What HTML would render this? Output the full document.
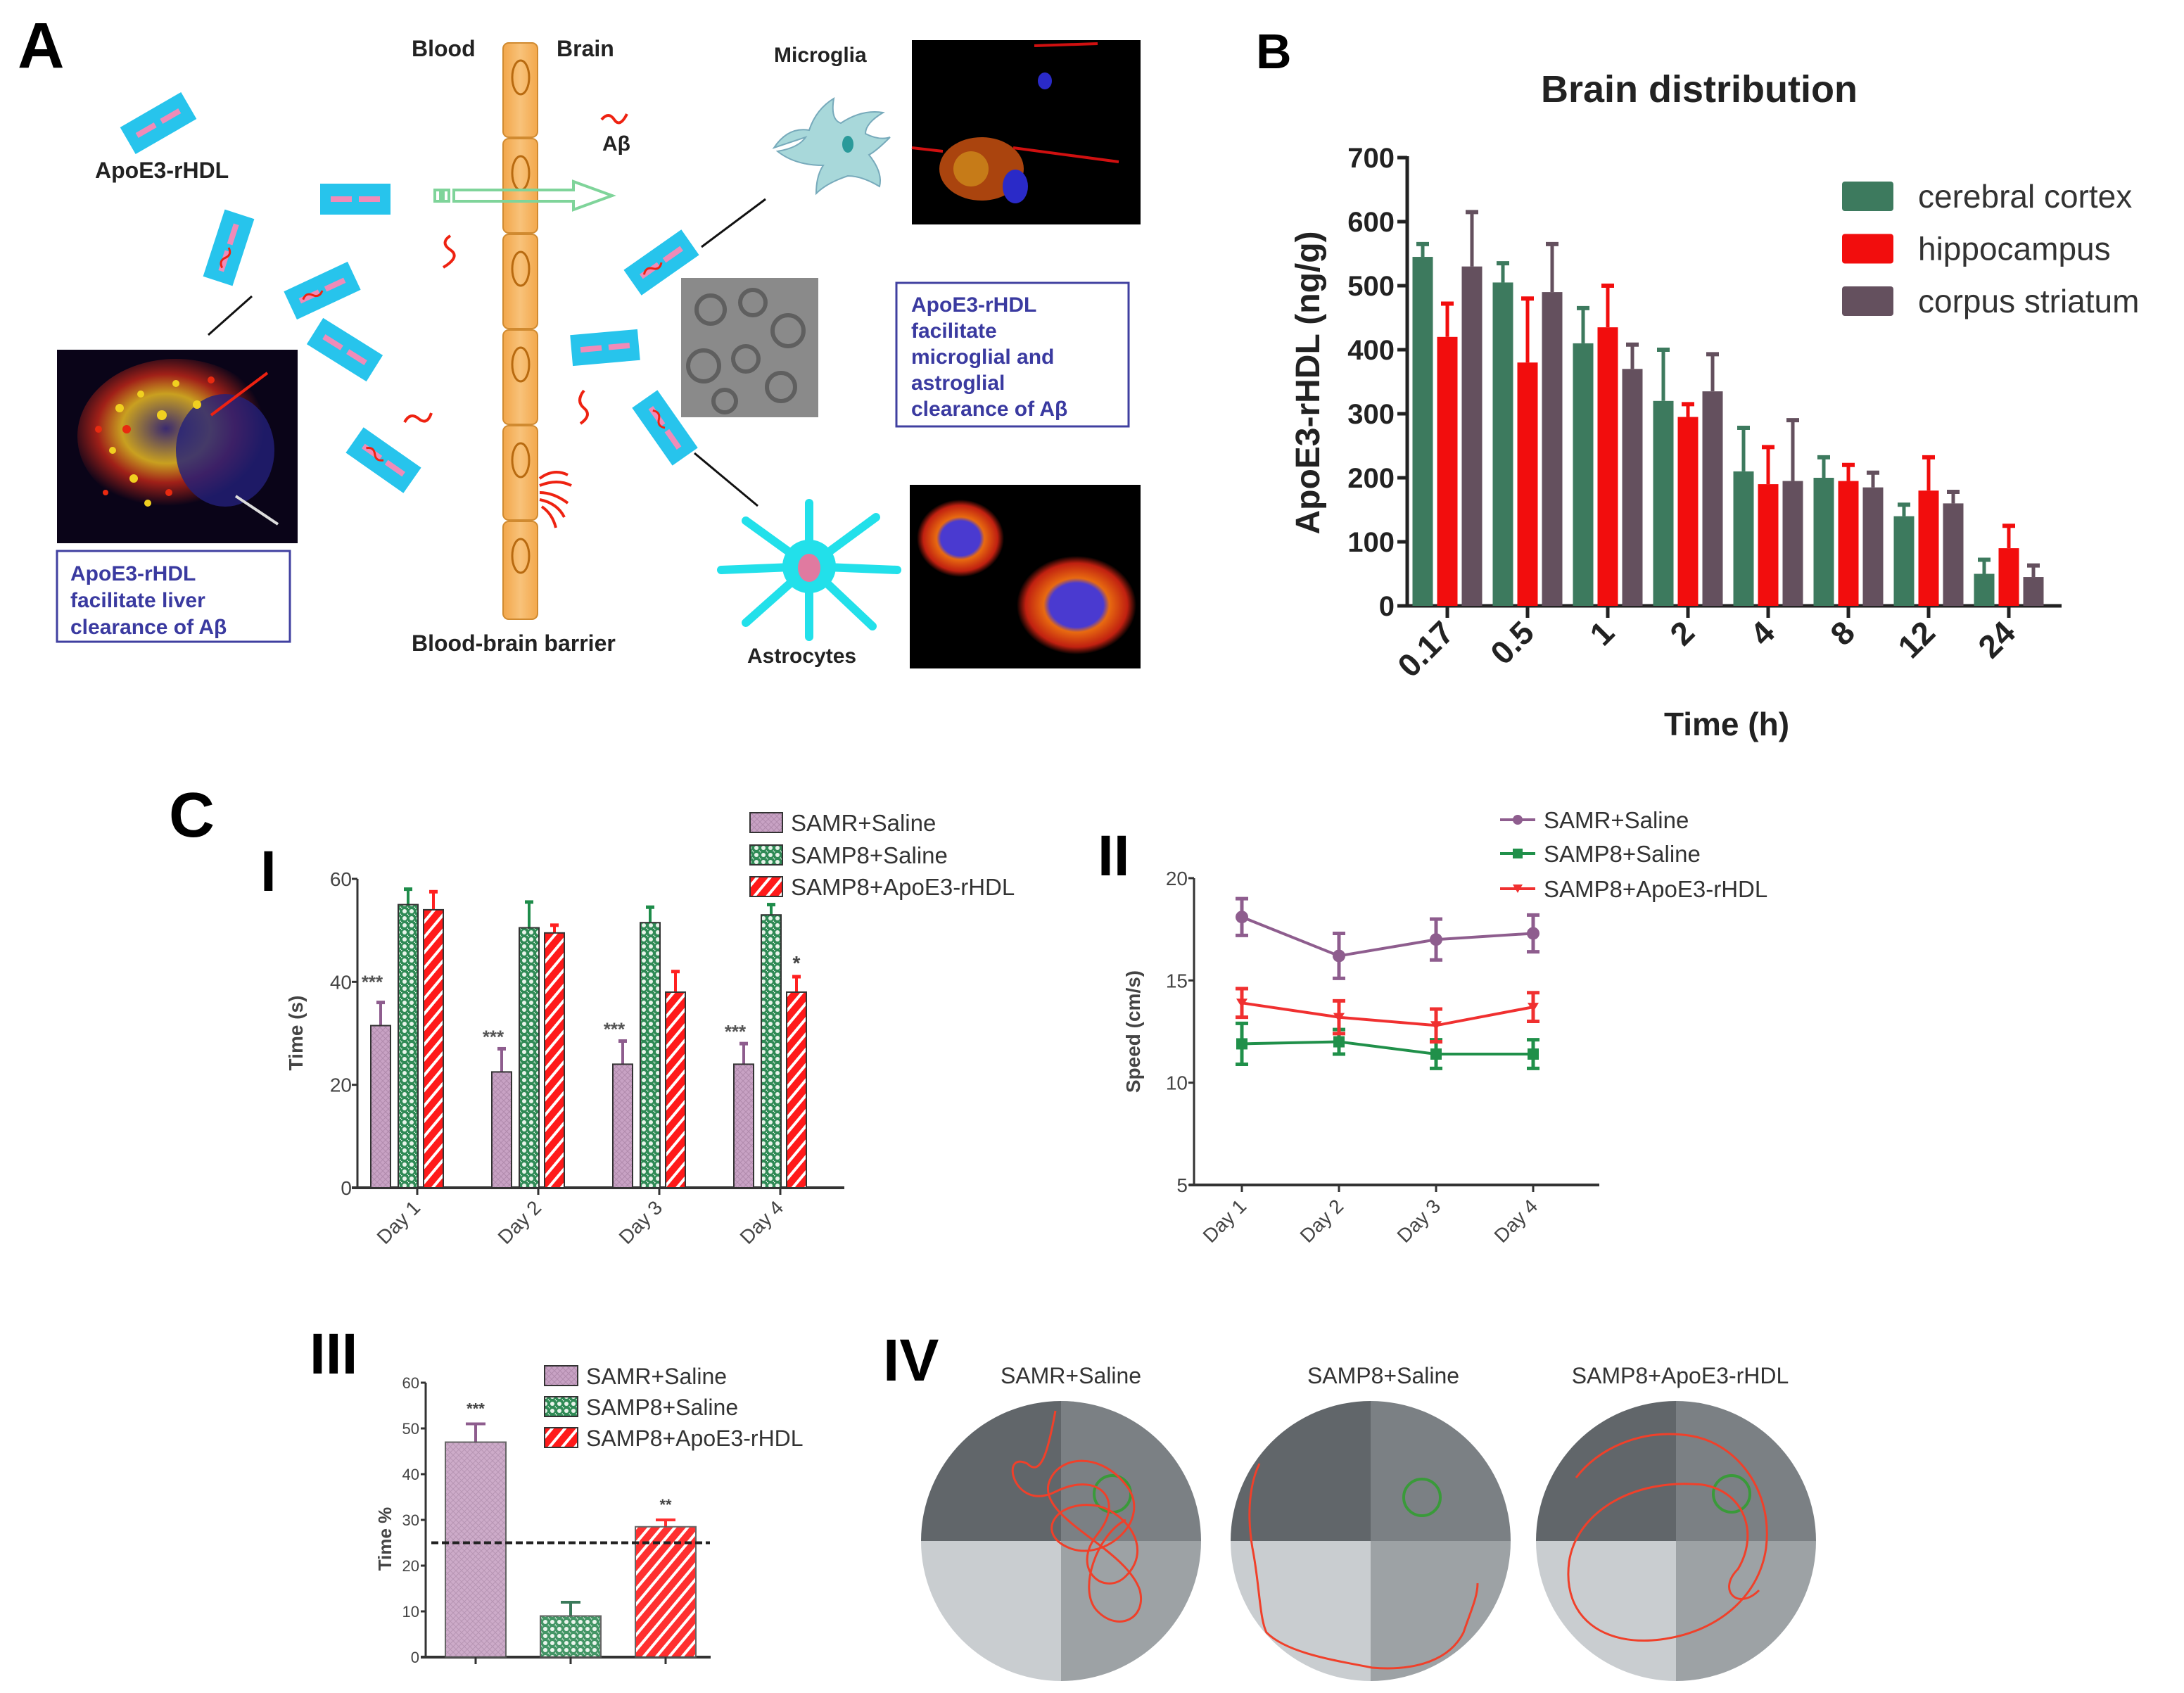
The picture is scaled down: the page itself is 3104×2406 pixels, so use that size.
<!DOCTYPE html>
<html><head><meta charset="utf-8"><style>
html,body{margin:0;padding:0;background:#fff}
svg{display:block}
text{font-family:"Liberation Sans",Arial,sans-serif}
</style></head><body>
<svg id="fig" xmlns="http://www.w3.org/2000/svg" width="3104" height="2406" viewBox="0 0 3104 2406">
<defs>
<pattern id="pPurple" width="8" height="8" patternUnits="userSpaceOnUse"><rect width="8" height="8" fill="#c8a2c4"/><path d="M0 0L8 8M8 0L0 8" stroke="#b08aac" stroke-width="1"/></pattern>
<pattern id="pGreen" width="10" height="10" patternUnits="userSpaceOnUse"><rect width="10" height="10" fill="#2f8a55"/><circle cx="5" cy="5" r="3" fill="#e8f3ea"/><circle cx="0" cy="0" r="1.6" fill="#e8f3ea"/><circle cx="10" cy="10" r="1.6" fill="#e8f3ea"/></pattern>
<pattern id="pRed" width="14" height="14" patternUnits="userSpaceOnUse" patternTransform="rotate(40)"><rect width="14" height="14" fill="#ff1a1a"/><rect width="4" height="14" fill="#fff"/></pattern>
<linearGradient id="gCell" x1="0" x2="1"><stop offset="0" stop-color="#f2a64a"/><stop offset="0.5" stop-color="#f8c27a"/><stop offset="1" stop-color="#f3a84c"/></linearGradient>
<radialGradient id="gLiver" cx="0.45" cy="0.45" r="0.5"><stop offset="0" stop-color="#3a2a70"/><stop offset="0.45" stop-color="#c9a020"/><stop offset="0.7" stop-color="#a02018"/><stop offset="1" stop-color="#0a0418"/></radialGradient>
<radialGradient id="gAstro" cx="0.5" cy="0.5" r="0.5"><stop offset="0" stop-color="#4a3ad0"/><stop offset="0.45" stop-color="#4a3ad0"/><stop offset="0.55" stop-color="#e86a10"/><stop offset="0.85" stop-color="#c02010"/><stop offset="1" stop-color="#000"/></radialGradient>
</defs>
<g id="panelA">
<text x="25" y="96" font-size="92" font-weight="bold">A</text>
<text x="585" y="80" font-size="32" font-weight="bold" fill="#222">Blood</text>
<text x="791" y="80" font-size="32" font-weight="bold" fill="#222">Brain</text>
<g>
<rect x="715" y="61" width="49" height="134" rx="8" fill="url(#gCell)" stroke="#d08a30" stroke-width="2"/><ellipse cx="740" cy="110" rx="12" ry="24" fill="none" stroke="#b86a10" stroke-width="3"/>
<rect x="715" y="197" width="49" height="134" rx="8" fill="url(#gCell)" stroke="#d08a30" stroke-width="2"/><ellipse cx="740" cy="246" rx="12" ry="24" fill="none" stroke="#b86a10" stroke-width="3"/>
<rect x="715" y="333" width="49" height="134" rx="8" fill="url(#gCell)" stroke="#d08a30" stroke-width="2"/><ellipse cx="740" cy="382" rx="12" ry="24" fill="none" stroke="#b86a10" stroke-width="3"/>
<rect x="715" y="469" width="49" height="134" rx="8" fill="url(#gCell)" stroke="#d08a30" stroke-width="2"/><ellipse cx="740" cy="518" rx="12" ry="24" fill="none" stroke="#b86a10" stroke-width="3"/>
<rect x="715" y="605" width="49" height="134" rx="8" fill="url(#gCell)" stroke="#d08a30" stroke-width="2"/><ellipse cx="740" cy="654" rx="12" ry="24" fill="none" stroke="#b86a10" stroke-width="3"/>
<rect x="715" y="741" width="49" height="139" rx="8" fill="url(#gCell)" stroke="#d08a30" stroke-width="2"/><ellipse cx="740" cy="790" rx="12" ry="24" fill="none" stroke="#b86a10" stroke-width="3"/>
</g>
<text x="585" y="925" font-size="32" font-weight="bold" fill="#222">Blood-brain barrier</text>
<path d="M855 170q10-12 18 0t18-8" fill="none" stroke="#e21" stroke-width="4"/>
<text x="856" y="214" font-size="30" font-weight="bold" fill="#222">Aβ</text>
<text x="135" y="253" font-size="32" font-weight="bold" fill="#222">ApoE3-rHDL</text>
<g fill="#27c4ec">
<g transform="translate(225,175) rotate(-30)"><rect x="-50" y="-22" width="100" height="44"/><path d="M-35 0h30M5 0h30" stroke="#f08bb8" stroke-width="8"/></g>
<g transform="translate(505,283)"><rect x="-50" y="-22" width="100" height="44"/><path d="M-35 0h30M5 0h30" stroke="#f08bb8" stroke-width="8"/></g>
<g transform="translate(325,352) rotate(-72)"><rect x="-50" y="-22" width="100" height="44"/><path d="M-35 0h30M5 0h30" stroke="#f08bb8" stroke-width="8"/><path d="M-30 0q8-8 15 0t15 0" stroke="#e21" stroke-width="3" fill="none"/></g>
<g transform="translate(458,413) rotate(-25)"><rect x="-50" y="-22" width="100" height="44"/><path d="M-35 0h30M5 0h30" stroke="#f08bb8" stroke-width="8"/><path d="M-30 0q8-8 15 0t15 0" stroke="#e21" stroke-width="3" fill="none"/></g>
<g transform="translate(490,497) rotate(32)"><rect x="-50" y="-22" width="100" height="44"/><path d="M-35 0h30M5 0h30" stroke="#f08bb8" stroke-width="8"/></g>
<g transform="translate(545,654) rotate(35)"><rect x="-50" y="-22" width="100" height="44"/><path d="M-35 0h30M5 0h30" stroke="#f08bb8" stroke-width="8"/><path d="M-30 0q8-8 15 0t15 0" stroke="#e21" stroke-width="3" fill="none"/></g>
<g transform="translate(940,373) rotate(-35)"><rect x="-50" y="-22" width="100" height="44"/><path d="M-35 0h30M5 0h30" stroke="#f08bb8" stroke-width="8"/><path d="M-30 0q8-8 15 0t15 0" stroke="#e21" stroke-width="3" fill="none"/></g>
<g transform="translate(860,494) rotate(-5)"><rect x="-48" y="-22" width="96" height="44"/><path d="M-35 0h30M5 0h30" stroke="#f08bb8" stroke-width="8"/></g>
<g transform="translate(945,608) rotate(55)"><rect x="-50" y="-22" width="100" height="44"/><path d="M-35 0h30M5 0h30" stroke="#f08bb8" stroke-width="8"/><path d="M-30 0q8-8 15 0t15 0" stroke="#e21" stroke-width="3" fill="none"/></g>
</g>
<g fill="none" stroke="#e21" stroke-width="4">
<path d="M640 335q-15 10 0 20t-10 25"/><path d="M575 600q8-15 20-5t18-8"/><path d="M830 555q-12 15 0 25t-5 22"/><path d="M315 720q-15 8 0 15t20 5"/>
<path d="M767 680q20-15 40-5M767 690q25-10 45 0M767 700q20 0 40 15M767 710q25 5 35 25M770 720q15 10 20 30"/>
</g>
<g fill="none" stroke="#7fd49a" stroke-width="4"><rect x="618" y="270" width="8" height="16"/><rect x="630" y="270" width="8" height="16"/><path d="M645 270h170v-12l55 20-55 20v-12h-170z"/></g>
<g stroke="#111" stroke-width="3"><path d="M358 421L296 476"/><path d="M997 351L1088 283"/><path d="M987 644L1077 719"/></g>
<g><rect x="81" y="497" width="342" height="275" fill="#0a0418"/><ellipse cx="250" cy="620" rx="140" ry="110" fill="url(#gLiver)"/><ellipse cx="320" cy="640" rx="70" ry="80" fill="#23207a" opacity="0.8"/>
<g fill="#f0d020"><circle cx="170" cy="580" r="6"/><circle cx="200" cy="560" r="5"/><circle cx="230" cy="590" r="7"/><circle cx="160" cy="640" r="5"/><circle cx="190" cy="680" r="6"/><circle cx="250" cy="545" r="5"/><circle cx="280" cy="575" r="6"/><circle cx="210" cy="715" r="5"/></g>
<g fill="#e82a10"><circle cx="140" cy="610" r="5"/><circle cx="180" cy="610" r="6"/><circle cx="240" cy="700" r="5"/><circle cx="150" cy="700" r="4"/><circle cx="300" cy="540" r="5"/></g>
<path d="M380 530L300 590" stroke="#e21" stroke-width="4"/><path d="M395 745L335 705" stroke="#ddd" stroke-width="4"/></g>
<rect x="81" y="783" width="331" height="129" fill="#fff" stroke="#4040a0" stroke-width="3"/>
<text font-size="30" font-weight="bold" fill="#3a3aa0"><tspan x="100" y="825">ApoE3-rHDL</tspan><tspan x="100" y="863">facilitate liver</tspan><tspan x="100" y="901">clearance of Aβ</tspan></text>
<text x="1100" y="88" font-size="30" font-weight="bold" fill="#222">Microglia</text>
<path d="M1100 210q20-30 50-25q10-30 35-45q-5 30 10 35q30-20 60-15q-25 15-25 30q20 10 35 5q-20 20-30 25q20 25 15 45q-25-15-45-15q-30 10-45 25q0-25 10-40q-40 0-65-20q30-5 40-20z" fill="#a8d8da" stroke="#7ab" stroke-width="2"/>
<ellipse cx="1205" cy="205" rx="8" ry="12" fill="#2a9a9a"/>
<g><rect x="1296" y="57" width="325" height="262" fill="#000"/><ellipse cx="1395" cy="240" rx="60" ry="45" fill="#c85010" opacity="0.85"/><circle cx="1380" cy="240" r="25" fill="#d8a020" opacity="0.6"/><ellipse cx="1443" cy="265" rx="18" ry="24" fill="#2a2ac8"/><ellipse cx="1485" cy="115" rx="10" ry="12" fill="#2a2ac8"/><path d="M1440 210L1590 230M1296 210L1340 215M1470 65L1560 62" stroke="#d01010" stroke-width="4"/></g>
<g><rect x="968" y="395" width="195" height="198" fill="#8a8a8a"/><g fill="none" stroke="#444" stroke-width="6" opacity="0.6"><circle cx="1010" cy="440" r="20"/><circle cx="1070" cy="430" r="18"/><circle cx="1120" cy="470" r="22"/><circle cx="1000" cy="520" r="22"/><circle cx="1060" cy="510" r="18"/><circle cx="1110" cy="550" r="20"/><circle cx="1030" cy="570" r="16"/></g></g>
<rect x="1274" y="402" width="330" height="204" fill="#fff" stroke="#4040a0" stroke-width="3"/>
<text font-size="30" font-weight="bold" fill="#3a3aa0"><tspan x="1295" y="443">ApoE3-rHDL</tspan><tspan x="1295" y="480">facilitate</tspan><tspan x="1295" y="517">microglial and</tspan><tspan x="1295" y="554">astroglial</tspan><tspan x="1295" y="591">clearance of Aβ</tspan></text>
<g stroke="#22e0ea" stroke-width="12" fill="none" stroke-linecap="round"><path d="M1150 805L1060 740M1150 805L1150 715M1150 805L1245 735M1150 805L1275 810M1150 805L1240 890M1150 805L1150 905M1150 805L1060 885M1150 805L1025 810"/><circle cx="1150" cy="805" r="38" fill="#22e0ea" stroke="none"/><ellipse cx="1150" cy="807" rx="16" ry="20" fill="#e07aa0" stroke="none"/></g>
<text x="1062" y="942" font-size="30" font-weight="bold" fill="#222">Astrocytes</text>
<g><rect x="1293" y="689" width="328" height="261" fill="#000"/><ellipse cx="1365" cy="765" rx="62" ry="55" fill="url(#gAstro)"/><ellipse cx="1530" cy="860" rx="85" ry="70" fill="url(#gAstro)"/></g>
</g>

<text x="1785" y="97" font-size="70" font-weight="bold">B</text>
<text x="2415" y="145" font-size="54" font-weight="bold" text-anchor="middle" fill="#222">Brain distribution</text>
<text x="240" y="1189" font-size="90" font-weight="bold">C</text>
<text x="370" y="1266" font-size="82" font-weight="bold">I</text>
<text x="1560" y="1244" font-size="82" font-weight="bold">II</text>
<text x="440" y="1952" font-size="82" font-weight="bold">III</text>
<text x="1255" y="1962" font-size="84" font-weight="bold">IV</text>

<g id="panelIV">
<text x="1522" y="1966" font-size="32" text-anchor="middle" fill="#333">SAMR+Saline</text>
<text x="1966" y="1966" font-size="32" text-anchor="middle" fill="#333">SAMP8+Saline</text>
<text x="2388" y="1966" font-size="32" text-anchor="middle" fill="#333">SAMP8+ApoE3-rHDL</text>
</g>
<g id="chartB"></g>
<g id="chartI"></g>
<g id="chartII"></g>
<g id="chartIII"></g>
</svg>
<script>
const bCategories = ['0.17','0.5','1','2','4','8','12','24'];
const bCortex = [545,505,410,320,210,200,140,50];
const bCortexErr = [20,30,55,80,68,32,18,22];
const bHippo = [420,380,435,295,190,195,180,90];
const bHippoErr = [52,100,65,20,58,25,52,35];
const bStriatum = [530,490,370,335,195,185,160,45];
const bStriatumErr = [85,75,38,58,95,23,18,18];
const bTicks = [0,100,200,300,400,500,600,700];
const bSeriesNames = ['cerebral cortex','hippocampus','corpus striatum'];
const dayCategories = ['Day 1','Day 2','Day 3','Day 4'];
const iSamr = [31.5,22.5,24,24];
const iSamrErr = [4.5,4.5,4.5,4];
const iSamp8 = [55,50.5,51.5,53];
const iSamp8Err = [3,5,3,2];
const iApoe = [54,49.5,38,38];
const iApoeErr = [3.5,1.5,4,3];
const iTicks = [0,20,40,60];
const iStars = ['***','***','***','***'];
const iiSamr = [18.1,16.2,17.0,17.3];
const iiSamrErr = [0.9,1.1,1.0,0.9];
const iiSamp8 = [11.9,12.0,11.4,11.4];
const iiSamp8Err = [1.0,0.6,0.7,0.7];
const iiApoe = [13.9,13.2,12.8,13.7];
const iiApoeErr = [0.7,0.8,0.8,0.7];
const iiTicks = [5,10,15,20];
const iiiGroups = ['SAMR+Saline','SAMP8+Saline','SAMP8+ApoE3-rHDL'];
const iiiValues = [47,9,28.5];
const iiiErr = [4,3,1.5];
const iiiStars = ['***','','**'];
const iiiTicks = [0,10,20,30,40,50,60];
const iiiChance = 25;

const NS='http://www.w3.org/2000/svg';
function mk(parent, tag, attrs, txt){const e=document.createElementNS(NS,tag);for(const k in attrs)e.setAttribute(k,attrs[k]);if(txt!==undefined)e.textContent=txt;parent.appendChild(e);return e;}

(function(){
const g=document.getElementById('chartB');
const y=v=>861-v*(637/700);
const x=i=>2057+i*114;
let e;
e=mk(g,'line',{x1:2000,y1:222,x2:2000,y2:863,stroke:'#222','stroke-width':5});


e=mk(g,'line',{x1:1998,y1:861,x2:2930,y2:861,stroke:'#222','stroke-width':5});


bTicks.forEach(t=>{
 e=mk(g,'line',{x1:1986,y1:y(t),x2:2000,y2:y(t),stroke:'#222','stroke-width':5});
 
 
 e=mk(g,'text',{x:1982,y:y(t)+14,'font-size':40,'font-weight':'bold','text-anchor':'end',fill:'#222'},String(t));
 
 
});
const series=[[bCortex,bCortexErr,'#3d7a5e'],[bHippo,bHippoErr,'#f20d0d'],[bStriatum,bStriatumErr,'#64505e']];
bCategories.forEach((c,i)=>{
 series.forEach((s,k)=>{
  const cx=x(i)+(k-1)*35;const v=s[0][i];const er=s[1][i];
  e=mk(g,'line',{x1:cx,y1:y(v),x2:cx,y2:y(v+er),stroke:s[2],'stroke-width':5});
  
  
  e=mk(g,'line',{x1:cx-9,y1:y(v+er),x2:cx+9,y2:y(v+er),stroke:s[2],'stroke-width':6});
  
  
  e=mk(g,'rect',{x:cx-14.5,y:y(v),width:29,height:861-y(v),fill:s[2]});
  
  
 });
 e=mk(g,'line',{x1:x(i),y1:861,x2:x(i),y2:878,stroke:'#222','stroke-width':5});
 
 
 e=mk(g,'text',{x:x(i)+12,y:902,'font-size':46,'font-weight':'bold','text-anchor':'end',fill:'#222',transform:`rotate(-45 ${x(i)+12} 902)`},c);
 
 
});
e=mk(g,'text',{x:2454,y:1045,'font-size':46,'font-weight':'bold','text-anchor':'middle',fill:'#222'},'Time (h)');


e=mk(g,'text',{x:1875,y:544,'font-size':48,'font-weight':'bold','text-anchor':'middle',fill:'#222',transform:'rotate(-90 1875 544)'},'ApoE3-rHDL (ng/g)');


series.forEach((s,k)=>{
 const ry=279+k*74.5;
 e=mk(g,'rect',{x:2618,y:ry-21,width:73,height:42,rx:4,fill:s[2]});
 
 
 e=mk(g,'text',{x:2726,y:ry+16,'font-size':46,fill:'#333'},bSeriesNames[k]);
 
 
});
})();

function cLegend(g,x0,ys,kind,x1,fs){
 const fills=['url(#pPurple)','url(#pGreen)','url(#pRed)'];
 const cols=['#8e5d8e','#20904a','#f03030'];
 let e;
 iiiGroups.forEach((name,k)=>{
  const ry=ys[k];
  if(kind==='bar'){
   e=mk(g,'rect',{x:x0,y:ry-14,width:x1-x0-12,height:28,fill:fills[k],stroke:'#333','stroke-width':2});
   
   
  } else {
   e=mk(g,'line',{x1:x0,y1:ry,x2:x1-12,y2:ry,stroke:cols[k],'stroke-width':4});
   
   
   const mx=(x0+x1-12)/2;
   e=k===0?mk(g,'circle',{cx:mx,cy:ry,r:7,fill:cols[k]}):k===1?mk(g,'rect',{x:mx-7,y:ry-7,width:14,height:14,fill:cols[k]}):mk(g,'path',{d:`M${mx-7} ${ry-6}h14l-7 12z`,fill:cols[k]});
   
   
  }
  e=mk(g,'text',{x:x1,y:ry+12,'font-size':fs,fill:'#333'},name);
  
  
 });
}

(function(){
const g=document.getElementById('chartI');
const y=v=>1688-v*(439/60);
const x=i=>593+i*172;
const offs=[-52,-13,23];
let e;
e=mk(g,'line',{x1:508,y1:1249,x2:508,y2:1690,stroke:'#333','stroke-width':3});


e=mk(g,'line',{x1:500,y1:1688,x2:1200,y2:1688,stroke:'#333','stroke-width':4});


iTicks.forEach(t=>{
 e=mk(g,'line',{x1:500,y1:y(t),x2:508,y2:y(t),stroke:'#333','stroke-width':3});
 
 
 e=mk(g,'text',{x:500,y:y(t)+10,'font-size':28,'text-anchor':'end',fill:'#444'},String(t));
 
 
});
const series=[[iSamr,iSamrErr,'url(#pPurple)','#8e5d8e'],[iSamp8,iSamp8Err,'url(#pGreen)','#1e8c4a'],[iApoe,iApoeErr,'url(#pRed)','#ff2020']];
dayCategories.forEach((c,i)=>{
 series.forEach((s,k)=>{
  const cx=x(i)+offs[k];const v=s[0][i];const er=s[1][i];
  e=mk(g,'line',{x1:cx,y1:y(v),x2:cx,y2:y(v+er),stroke:s[3],'stroke-width':4});
  
  
  e=mk(g,'line',{x1:cx-6,y1:y(v+er),x2:cx+6,y2:y(v+er),stroke:s[3],'stroke-width':5});
  
  
  e=mk(g,'rect',{x:cx-14,y:y(v),width:28,height:1688-y(v),fill:s[2],stroke:'#333','stroke-width':2});
  
  
 });
 e=mk(g,'text',{x:x(i)+offs[0]-12,y:y(iSamr[i]+iSamrErr[i])-(i===0?20:8),'font-size':26,'font-weight':'bold','text-anchor':'middle',fill:'#555'},iStars[i]);
 
 
 e=mk(g,'line',{x1:x(i),y1:1688,x2:x(i),y2:1698,stroke:'#333','stroke-width':3});
 
 
 e=mk(g,'text',{x:x(i)+6,y:1718,'font-size':28,'text-anchor':'end',fill:'#444',transform:`rotate(-45 ${x(i)+6} 1718)`},c);
 
 
});
e=mk(g,'text',{x:x(3)+offs[2],y:y(iApoe[3]+iApoeErr[3])-10,'font-size':28,'font-weight':'bold','text-anchor':'middle',fill:'#444'},'*');


e=mk(g,'text',{x:430,y:1468,'font-size':28,'font-weight':'bold','text-anchor':'middle',fill:'#444',transform:'rotate(-90 430 1468)'},'Time (s)');


cLegend(g,1066,[1169,1215,1260],'bar',1124,33);
})();

(function(){
const g=document.getElementById('chartII');
const y=v=>1684-(v-5)*(436/15);
const x=i=>1765+i*138;
let e;
e=mk(g,'line',{x1:1697,y1:1248,x2:1697,y2:1686,stroke:'#333','stroke-width':3});


e=mk(g,'line',{x1:1690,y1:1684,x2:2273,y2:1684,stroke:'#333','stroke-width':4});


iiTicks.forEach(t=>{
 e=mk(g,'line',{x1:1689,y1:y(t),x2:1697,y2:y(t),stroke:'#333','stroke-width':3});
 
 
 e=mk(g,'text',{x:1688,y:y(t)+10,'font-size':28,'text-anchor':'end',fill:'#444'},String(t));
 
 
});
const series=[[iiSamp8,iiSamp8Err,'#20904a',1],[iiApoe,iiApoeErr,'#f03030',2],[iiSamr,iiSamrErr,'#8e5d8e',0]];
series.forEach(s=>{
 const pts=s[0].map((v,i)=>`${x(i)},${y(v)}`).join(' ');
 e=mk(g,'polyline',{points:pts,fill:'none',stroke:s[2],'stroke-width':4});
 
 
 s[0].forEach((v,i)=>{
  const cx=x(i),er=s[1][i];
  e=mk(g,'path',{d:`M${cx} ${y(v-er)}V${y(v+er)}M${cx-9} ${y(v-er)}h18M${cx-9} ${y(v+er)}h18`,stroke:s[2],'stroke-width':5,fill:'none'});
  
  
  e=s[3]===0?mk(g,'circle',{cx:cx,cy:y(v),r:9,fill:s[2]}):s[3]===1?mk(g,'rect',{x:cx-8,y:y(v)-8,width:16,height:16,fill:s[2]}):mk(g,'path',{d:`M${cx-8} ${y(v)-6}h16l-8 13z`,fill:s[2]});
  
  
 });
});
dayCategories.forEach((c,i)=>{
 e=mk(g,'line',{x1:x(i),y1:1684,x2:x(i),y2:1694,stroke:'#333','stroke-width':3});
 
 
 e=mk(g,'text',{x:x(i)+8,y:1716,'font-size':28,'text-anchor':'end',fill:'#444',transform:`rotate(-45 ${x(i)+8} 1716)`},c);
 
 
});
e=mk(g,'text',{x:1620,y:1466,'font-size':28,'font-weight':'bold','text-anchor':'middle',fill:'#444',transform:'rotate(-90 1620 1466)'},'Speed (cm/s)');


cLegend(g,2132,[1165,1213,1263],'line',2194,33);
})();

(function(){
const g=document.getElementById('chartIII');
const y=v=>2355-v*6.5;
const x=i=>676+i*135;
const fills=['url(#pPurple)','url(#pGreen)','url(#pRed)'];
const cols=['#8e5d8e','#3a7a5a','#ff3030'];
let e;
e=mk(g,'line',{x1:605,y1:1965,x2:605,y2:2357,stroke:'#333','stroke-width':3});


e=mk(g,'line',{x1:598,y1:2355,x2:1010,y2:2355,stroke:'#333','stroke-width':4});


iiiTicks.forEach(t=>{
 e=mk(g,'line',{x1:598,y1:y(t),x2:605,y2:y(t),stroke:'#333','stroke-width':3});
 
 
 e=mk(g,'text',{x:596,y:y(t)+8,'font-size':22,'text-anchor':'end',fill:'#444'},String(t));
 
 
});
iiiValues.forEach((v,i)=>{
 const cx=x(i),er=iiiErr[i];
 e=mk(g,'path',{d:`M${cx} ${y(v)}V${y(v+er)}M${cx-14} ${y(v+er)}h28`,stroke:cols[i],'stroke-width':4});
 
 
 e=mk(g,'rect',{x:cx-43,y:y(v),width:86,height:2355-y(v),fill:fills[i],stroke:'#555','stroke-width':2,opacity:0.9});
 
 
 e=mk(g,'text',{x:cx,y:y(v+er)-14,'font-size':22,'font-weight':'bold','text-anchor':'middle',fill:'#444'},iiiStars[i]);
 
 
 e=mk(g,'line',{x1:cx,y1:2355,x2:cx,y2:2365,stroke:'#333','stroke-width':3});
 
 
});
e=mk(g,'line',{x1:613,y1:y(iiiChance),x2:1009,y2:y(iiiChance),stroke:'#222','stroke-width':4,'stroke-dasharray':'10 5'});


e=mk(g,'text',{x:556,y:2187,'font-size':26,'font-weight':'bold','text-anchor':'middle',fill:'#444',transform:'rotate(-90 556 2187)'},'Time %');


cLegend(g,774,[1955,1999,2043],'bar',833,32);
})();

(function(){
const g=document.getElementById('panelIV');
const centers=[[1508,2190],[1948,2190],[2382,2190]];
const rings=[[1581,2123],[2021,2128],[2461,2123]];
const paths=[
 'M1500 2005C1490 2060 1480 2100 1460 2080C1420 2060 1440 2150 1500 2120C1560 2090 1600 2130 1560 2180C1520 2230 1570 2270 1600 2240C1640 2200 1600 2150 1560 2140C1500 2130 1470 2180 1520 2200C1570 2220 1640 2160 1600 2110C1560 2060 1500 2070 1490 2110C1480 2160 1600 2200 1620 2260C1630 2300 1590 2320 1560 2290C1530 2260 1560 2180 1600 2160',
 'M1790 2080C1780 2100 1770 2140 1780 2200C1790 2250 1790 2300 1800 2320C1830 2350 1900 2360 1950 2370C2010 2375 2060 2360 2080 2320C2090 2290 2100 2270 2100 2250',
 'M2240 2100C2270 2060 2330 2030 2400 2040C2470 2050 2520 2120 2510 2200C2500 2270 2440 2320 2360 2330C2280 2340 2220 2300 2230 2220C2240 2150 2320 2100 2420 2110C2480 2120 2500 2180 2470 2230C2440 2260 2470 2290 2500 2260'
];
let e;
centers.forEach((c,k)=>{
 const [cx,cy]=c,r=199;
 const q=[['#61666a',-1,-1],['#7b8084',1,-1],['#c9cdd0',-1,1],['#9da2a5',1,1]];
 q.forEach(([col,sx,sy])=>{
  e=mk(g,'path',{d:`M${cx} ${cy}L${cx+sx*r} ${cy}A${r} ${r} 0 0 ${sx*sy>0?1:0} ${cx} ${cy+sy*r}Z`,fill:col});
  
  
 });
 e=mk(g,'circle',{cx:rings[k][0],cy:rings[k][1],r:26,fill:'none',stroke:'#3a9a3a','stroke-width':4});
 
 
 e=mk(g,'path',{d:paths[k],fill:'none',stroke:'#f0402a','stroke-width':3});
 
 
});
})();
</script>
</body></html>
